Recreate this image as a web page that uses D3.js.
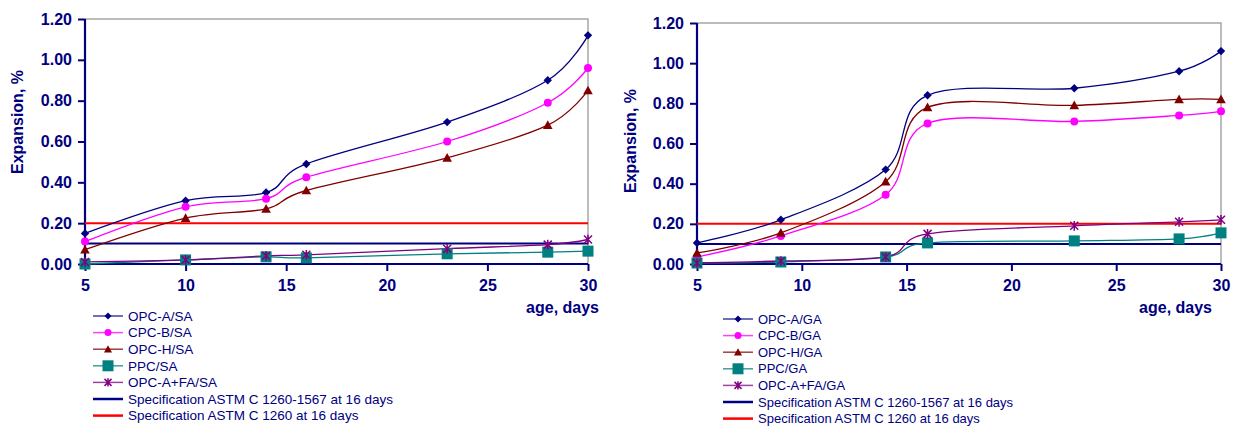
<!DOCTYPE html>
<html>
<head>
<meta charset="utf-8">
<script src="https://cdn.jsdelivr.net/npm/d3@7"></script>
<style>
  body { margin: 0; background: #fff; }
  svg text { font-family: "Liberation Sans", Arial, sans-serif; }
</style>
</head>
<body>
<svg id="chart" width="1237" height="428"></svg>
<script>
// data
const saDays = [5, 10, 14, 16, 23, 28, 30];
const gaDays = [5, 9, 14, 16, 23, 28, 30];

const saOpcA = [0.15, 0.31, 0.35, 0.49, 0.695, 0.90, 1.12];
const saCpcB = [0.11, 0.28, 0.32, 0.425, 0.60, 0.79, 0.96];
const saOpcH = [0.07, 0.225, 0.27, 0.36, 0.52, 0.68, 0.85];
const saPpc = [0.00, 0.02, 0.035, 0.03, 0.05, 0.058, 0.063];
const saOpcAFa = [0.01, 0.02, 0.04, 0.045, 0.075, 0.095, 0.12];

const gaOpcA = [0.105, 0.22, 0.47, 0.84, 0.875, 0.96, 1.06];
const gaCpcB = [0.035, 0.14, 0.345, 0.70, 0.71, 0.74, 0.76];
const gaOpcH = [0.055, 0.155, 0.41, 0.78, 0.79, 0.82, 0.82];
const gaPpc = [0.005, 0.01, 0.035, 0.105, 0.115, 0.125, 0.155];
const gaOpcAFa = [0.005, 0.015, 0.035, 0.15, 0.19, 0.21, 0.22];

const saNames = ['OPC-A/SA', 'CPC-B/SA', 'OPC-H/SA', 'PPC/SA', 'OPC-A+FA/SA'];
const gaNames = ['OPC-A/GA', 'CPC-B/GA', 'OPC-H/GA', 'PPC/GA', 'OPC-A+FA/GA'];
const specNames = ['Specification ASTM C 1260-1567 at 16 days', 'Specification ASTM C 1260 at 16 days'];
const specValues = [0.10, 0.20];

const xTicks = [5, 10, 15, 20, 25, 30];
const yTicks = [0, 0.2, 0.4, 0.6, 0.8, 1.0, 1.2];

const colors = ['#000080', '#ff00ff', '#800000', '#008080', '#800080'];
const markers = ['diamond', 'circle', 'triangle', 'square', 'star'];
const specColors = ['#000080', '#ff0000'];
const navy = '#000080';

const svg = d3.select('#chart');

// marker shapes, s = half size
function markerPath(type, s) {
  switch (type) {
    case 'diamond': return `M0,${-s}L${s},0L0,${s}L${-s},0Z`;
    case 'triangle': return `M0,${-s}L${s},${s * 0.8}L${-s},${s * 0.8}Z`;
    case 'square': return `M${-s},${-s}H${s}V${s}H${-s}Z`;
    case 'star': return `M${-s},${-s}L${s},${s}M${s},${-s}L${-s},${s}M0,${-s * 1.2}V${s * 1.2}`;
    default: return d3.path().toString();
  }
}

function drawMarker(g, type, cx, cy, color, s) {
  if (type === 'circle') {
    g.append('circle').attr('cx', cx).attr('cy', cy).attr('r', s).style('fill', color);
  } else if (type === 'star') {
    g.append('path').attr('d', markerPath(type, s))
      .attr('transform', `translate(${cx},${cy})`)
      .style('fill', 'none').style('stroke', color).style('stroke-width', 1.5);
  } else {
    g.append('path').attr('d', markerPath(type, s))
      .attr('transform', `translate(${cx},${cy})`)
      .style('fill', color);
  }
}

const markerSize = { diamond: 4.2, circle: 4, triangle: 4.8, square: 5.5, star: 4 };
const legendSize = { diamond: 3.5, circle: 3.5, triangle: 4, square: 5.5, star: 3.5 };

function drawChart(cfg) {
  const x = d3.scaleLinear().domain([5, 30]).range([cfg.x0, cfg.x1]);
  const y = d3.scaleLinear().domain([0, 1.2]).range([cfg.yBottom, cfg.yTop]);
  const g = svg.append('g');

  // top and right frame
  g.append('path')
    .attr('d', `M${cfg.x0},${cfg.yTop}H${cfg.x1}V${cfg.yBottom}`)
    .style('fill', 'none').style('stroke', '#a6a6a6').style('stroke-width', 1.5);

  // axes
  const yAxis = g.append('g').attr('transform', `translate(${cfg.x0},0)`)
    .call(d3.axisLeft(y).tickValues(yTicks).tickFormat(d3.format('.2f')).tickSize(7).tickPadding(6));
  const xAxis = g.append('g').attr('transform', `translate(0,${cfg.yBottom})`)
    .call(d3.axisBottom(x).tickValues(xTicks).tickSize(7).tickPadding(9));
  [yAxis, xAxis].forEach(a => {
    a.select('.domain').style('stroke', navy).style('stroke-width', 2.2);
    a.selectAll('.tick line').style('stroke', navy).style('stroke-width', 2);
    a.selectAll('.tick text').style('fill', navy).style('font-size', '16px').style('font-weight', 'bold');
  });
  // remove the outer tick stubs of d3's domain path
  yAxis.select('.domain').attr('d', `M0,${cfg.yTop}V${cfg.yBottom}`);
  xAxis.select('.domain').attr('d', `M${cfg.x0},0H${cfg.x1}`);

  // spec lines
  specValues.forEach((v, i) => {
    g.append('line')
      .attr('x1', cfg.x0).attr('x2', cfg.x1)
      .attr('y1', y(v)).attr('y2', y(v))
      .style('stroke', specColors[i]).style('stroke-width', 2);
  });

  // series
  const line = d3.line().x(d => x(d[0])).y(d => y(d[1])).curve(d3.curveCatmullRom.alpha(0));
  cfg.series.forEach((vals, i) => {
    const pts = cfg.days.map((d, j) => [d, vals[j]]);
    g.append('path').datum(pts).attr('d', line)
      .style('fill', 'none').style('stroke', colors[i]).style('stroke-width', 1.3);
  });
  // markers on top
  cfg.series.forEach((vals, i) => {
    cfg.days.forEach((d, j) => drawMarker(g, markers[i], x(d), y(vals[j]), colors[i], markerSize[markers[i]]));
  });

  // axis titles
  g.append('text').text('Expansion, %')
    .attr('transform', `translate(${cfg.titleX},${cfg.titleY}) rotate(-90)`)
    .attr('text-anchor', 'middle').attr('dy', '0.35em')
    .style('fill', navy).style('font-size', '16px').style('font-weight', 'bold');
  g.append('text').text('age, days')
    .attr('x', cfg.x1 + cfg.ageDx).attr('y', 313)
    .attr('text-anchor', 'end')
    .style('fill', navy).style('font-size', '16px').style('font-weight', 'bold');

  // legend
  const leg = g.append('g');
  const names = cfg.names.concat(specNames);
  names.forEach((name, i) => {
    const ly = cfg.legendY + i * 16.6;
    const color = i < 5 ? colors[i] : specColors[i - 5];
    leg.append('line')
      .attr('x1', cfg.legendX).attr('x2', cfg.legendX + 30)
      .attr('y1', ly).attr('y2', ly)
      .style('stroke', color).style('stroke-width', i < 5 ? 1.5 : 2.5)
      .style('opacity', i < 5 ? 0.75 : 1);
    if (i < 5) drawMarker(leg, markers[i], cfg.legendX + 15, ly, color, legendSize[markers[i]]);
    leg.append('text').text(name)
      .attr('x', cfg.legendX + 35).attr('y', ly).attr('dy', '0.35em')
      .style('fill', navy).style('font-size', cfg.legendFont);
  });
}

drawChart({
  x0: 85, x1: 588, yTop: 19, yBottom: 264,
  days: saDays, series: [saOpcA, saCpcB, saOpcH, saPpc, saOpcAFa],
  names: saNames, titleX: 17, titleY: 122, ageDx: 11,
  legendX: 93, legendY: 316, legendFont: '13.5px'
});

drawChart({
  x0: 697, x1: 1221, yTop: 23, yBottom: 264,
  days: gaDays, series: [gaOpcA, gaCpcB, gaOpcH, gaPpc, gaOpcAFa],
  names: gaNames, titleX: 630, titleY: 141, ageDx: -9,
  legendX: 723, legendY: 319, legendFont: '13px'
});
</script>
</body>
</html>
